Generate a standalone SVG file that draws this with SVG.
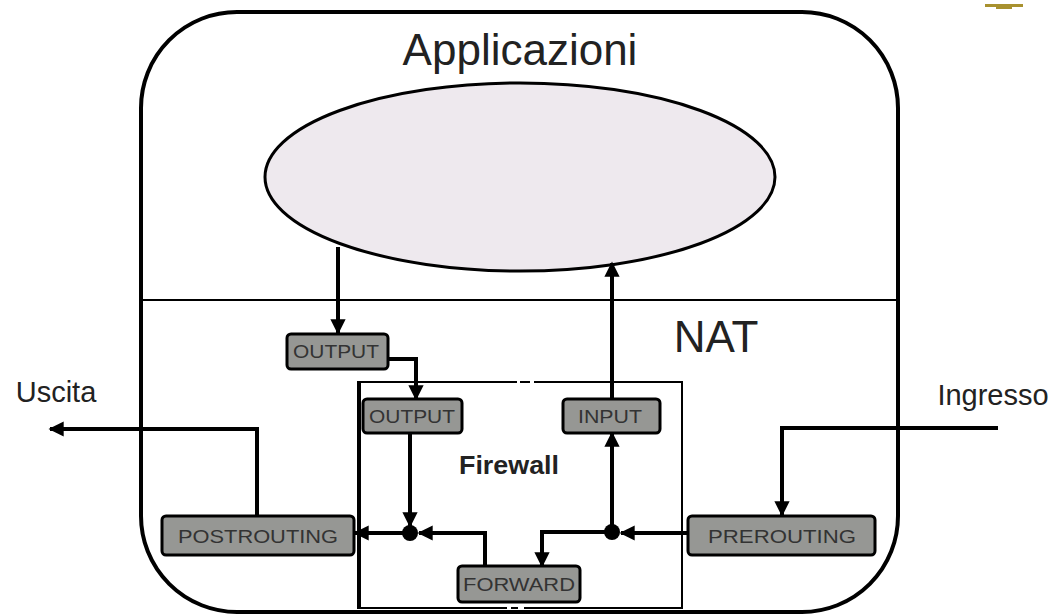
<svg xmlns="http://www.w3.org/2000/svg" width="1057" height="616" viewBox="0 0 1057 616">
  <style>
    .frame { fill: none; stroke: #000; }
    .wire { fill: none; stroke: #000; stroke-width: 4; }
    .chain rect { fill: #969794; stroke: #000; stroke-width: 3; }
    .chain text { font-family: "Liberation Sans", Arial, sans-serif; font-size: 19px; fill: #333; text-anchor: middle; }
    .big { font-family: "Liberation Sans", Arial, sans-serif; fill: #222; }
  </style>
  <defs>
    <marker id="head" viewBox="0 0 10 10" refX="9" refY="5" markerWidth="3.8" markerHeight="3.8" orient="auto" markerUnits="strokeWidth">
      <path d="M0,0 L10,5 L0,10 Z" fill="#000"/>
    </marker>
  </defs>

  <rect width="1057" height="616" fill="#fff"/>

  <!-- small ornament top right -->
  <path d="M985,4 H1023 V7 H1012 V9 H996 V7 H985 Z" fill="#a8912f"/>

  <!-- host outline and NAT separator -->
  <g id="host">
    <rect class="frame" x="141" y="12" width="757" height="600" rx="96" ry="96" stroke-width="4"/>
    <line class="frame" x1="141" y1="300" x2="898" y2="300" stroke-width="2"/>
    <text class="big" x="520" y="65" font-size="44" text-anchor="middle">Applicazioni</text>
    <text class="big" x="716" y="352" font-size="44" text-anchor="middle">NAT</text>
  </g>

  <!-- applications -->
  <g id="apps">
    <ellipse cx="520" cy="177" rx="255" ry="94" fill="#eee9ee" stroke="#000" stroke-width="3"/>
  </g>

  <!-- firewall area -->
  <g id="firewall">
    <path class="frame" d="M517,382 H358 V608 H507 M511,608 H518 M524,608 H682 V382 H534 M520,382 H530" stroke-width="2"/>
    <line x1="359" y1="382" x2="359" y2="609" stroke="#000" stroke-width="4"/>
    <text class="big" x="509" y="474" font-size="25" font-weight="bold" text-anchor="middle" textLength="100" lengthAdjust="spacingAndGlyphs">Firewall</text>
  </g>

  <!-- external labels -->
  <g id="uscita"><text class="big" x="56" y="402" font-size="29" text-anchor="middle">Uscita</text></g>
  <g id="ingresso"><text class="big" x="993" y="405" font-size="29" text-anchor="middle">Ingresso</text></g>

  <!-- packet path -->
  <g id="connectors">
    <path class="wire" d="M338,247 V333" marker-end="url(#head)"/>
    <path class="wire" d="M388,359 H416 V399" marker-end="url(#head)"/>
    <path class="wire" d="M612,398 V263" marker-end="url(#head)"/>
    <path class="wire" d="M410,432 V526" marker-end="url(#head)"/>
    <path class="wire" d="M410,533 H355" marker-end="url(#head)"/>
    <path class="wire" d="M485,566 V533 H419" marker-end="url(#head)"/>
    <path class="wire" d="M612,532 V433" marker-end="url(#head)"/>
    <path class="wire" d="M612,532 H542 V566" marker-end="url(#head)"/>
    <path class="wire" d="M688,533 H621" marker-end="url(#head)"/>
    <path class="wire" d="M998,428 H782 V515" marker-end="url(#head)"/>
    <path class="wire" d="M257,515 V429 H50" marker-end="url(#head)"/>
    <circle cx="410" cy="533" r="8" fill="#000"/>
    <circle cx="612" cy="532" r="8" fill="#000"/>
  </g>

  <!-- netfilter chains -->
  <g id="output-nat" class="chain">
    <rect x="287" y="334" width="101" height="35" rx="4"/>
    <text x="336" y="358" textLength="86" lengthAdjust="spacingAndGlyphs">OUTPUT</text>
  </g>
  <g id="output-filter" class="chain">
    <rect x="363" y="399" width="99" height="34" rx="4"/>
    <text x="412" y="423" textLength="86" lengthAdjust="spacingAndGlyphs">OUTPUT</text>
  </g>
  <g id="input" class="chain">
    <rect x="563" y="399" width="97" height="34" rx="4"/>
    <text x="610" y="423" textLength="64" lengthAdjust="spacingAndGlyphs">INPUT</text>
  </g>
  <g id="postrouting" class="chain">
    <rect x="162" y="516" width="192" height="39" rx="4"/>
    <text x="258" y="543" textLength="160" lengthAdjust="spacingAndGlyphs">POSTROUTING</text>
  </g>
  <g id="prerouting" class="chain">
    <rect x="688" y="516" width="187" height="39" rx="4"/>
    <text x="782" y="543" textLength="148" lengthAdjust="spacingAndGlyphs">PREROUTING</text>
  </g>
  <g id="forward" class="chain">
    <rect x="458" y="566" width="122" height="36" rx="4"/>
    <text x="519" y="591" textLength="112" lengthAdjust="spacingAndGlyphs">FORWARD</text>
  </g>
</svg>
